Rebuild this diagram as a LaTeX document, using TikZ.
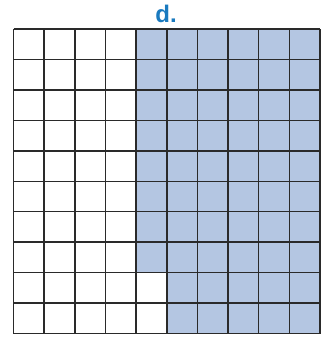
\documentclass[tikz,border=0pt]{standalone}
\usepackage{fontspec}
\setmainfont{Liberation Sans}
\definecolor{cellblue}{HTML}{B4C6E2}
\definecolor{titleblue}{HTML}{1A7ABF}
\definecolor{gridline}{HTML}{2A2A2A}
\begin{document}
\begin{tikzpicture}[x=1pt,y=-1pt,
  cellfill/.style={fill=cellblue,draw=none},
  gridstyle/.style={draw=gridline,line width=1.5pt}]
\useasboundingbox (0,0) rectangle (329,340);
\def\gx{13.5}\def\gy{29}\def\cw{30.65}\def\ch{30.45}
% shaded cells: columns 5-10 for rows 1-8, columns 6-10 for rows 9-10
\path[cellfill] (\gx+4*\cw,\gy) rectangle (\gx+10*\cw,\gy+8*\ch);
\path[cellfill] (\gx+5*\cw,\gy+8*\ch) rectangle (\gx+10*\cw,\gy+10*\ch);
\foreach \i in {0,...,10}{
  \draw[gridstyle] (\gx+\i*\cw,\gy) -- (\gx+\i*\cw,\gy+10*\ch);
  \draw[gridstyle] (\gx,\gy+\i*\ch) -- (\gx+10*\cw,\gy+\i*\ch);
}
\node[font=\bfseries\fontsize{24}{27}\selectfont,text=titleblue,anchor=base] (title) at (166,22) {d.};
\end{tikzpicture}
\end{document}
